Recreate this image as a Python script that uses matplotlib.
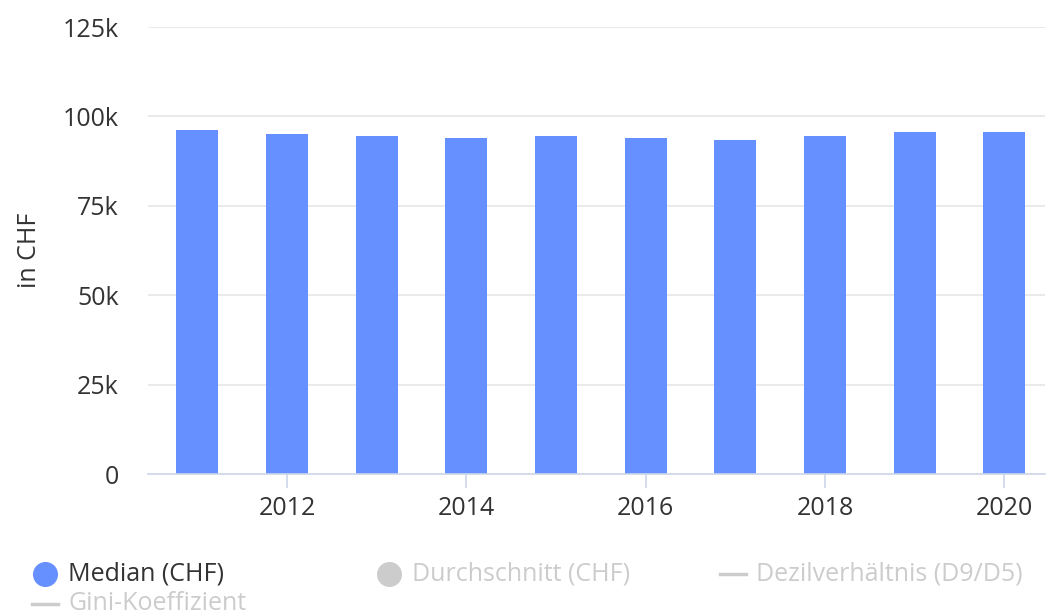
import numpy as np
import matplotlib
matplotlib.use("Agg")
import matplotlib.pyplot as plt
from matplotlib.lines import Line2D

plt.rcParams['font.family'] = ['Open Sans', 'DejaVu Sans']

years = [2011, 2012, 2013, 2014, 2015, 2016, 2017, 2018, 2019, 2020]
median_chf = [96200, 95000, 94500, 93900, 94500, 93900, 93500, 94500, 95600, 95600]
y_ticks = [0, 25000, 50000, 75000, 100000, 125000]
y_ticklabels = ["0", "25k", "50k", "75k", "100k", "125k"]
x_ticks = [2012, 2014, 2016, 2018, 2020]
legend_labels = ["Median (CHF)", "Durchschnitt (CHF)", "Dezilverhältnis (D9/D5)", "Gini-Koeffizient"]

bar_color = "#6690ff"
text_color = "#333333"
off_color = "#cccccc"

fig = plt.figure(figsize=(10.5, 6.16), dpi=100, facecolor='white')
ax = fig.add_axes([0.141, 0.2305, 0.854, 0.7255])

ax.bar(years, median_chf, width=0.47, color=bar_color, zorder=3)

ax.set_xlim(2010.45, 2020.45)
ax.set_ylim(0, 125000)
ax.set_yticks(y_ticks)
ax.set_yticklabels(y_ticklabels)
ax.set_xticks(x_ticks)
ax.set_xticklabels([str(t) for t in x_ticks])

ax.grid(axis='y', color='#e6e6e6', linewidth=1.2, zorder=0)
for side in ['top', 'right', 'left']:
    ax.spines[side].set_visible(False)
ax.spines['bottom'].set_color('#ccd6eb')
ax.spines['bottom'].set_linewidth(1.2)
ax.spines['bottom'].set_zorder(4)

ax.tick_params(axis='y', length=0, pad=21, labelsize=18, labelcolor=text_color)
ax.tick_params(axis='x', length=10, width=1.2, color='#ccd6eb', pad=6,
               labelsize=18, labelcolor=text_color)

ax.set_ylabel("in CHF", fontsize=18, color=text_color)
ax.yaxis.set_label_coords(-0.118, 0.5)

# legend drawn by hand, Highcharts-style
row1_y = 1 - 574 / 616
row2_y = 1 - 604 / 616
items = [
    (45, row1_y, 'o', bar_color, text_color, legend_labels[0]),
    (389, row1_y, 'o', off_color, off_color, legend_labels[1]),
    (733, row1_y, '-', off_color, off_color, legend_labels[2]),
    (45, row2_y, '-', off_color, off_color, legend_labels[3]),
]
for px, fy, mk, mcol, tcol, label in items:
    fx = px / 1050
    if mk == 'o':
        fig.add_artist(Line2D([fx], [fy], marker='o', markersize=17,
                              color=mcol, linestyle='none',
                              transform=fig.transFigure))
    else:
        fig.add_artist(Line2D([fx - 13 / 1050, fx + 13 / 1050], [fy, fy],
                              color=mcol, linewidth=2.5,
                              transform=fig.transFigure))
    fig.text(fx + 23 / 1050, fy, label, fontsize=18, color=tcol,
             va='center', ha='left')

fig.savefig("out.png", dpi=100, facecolor='white')
